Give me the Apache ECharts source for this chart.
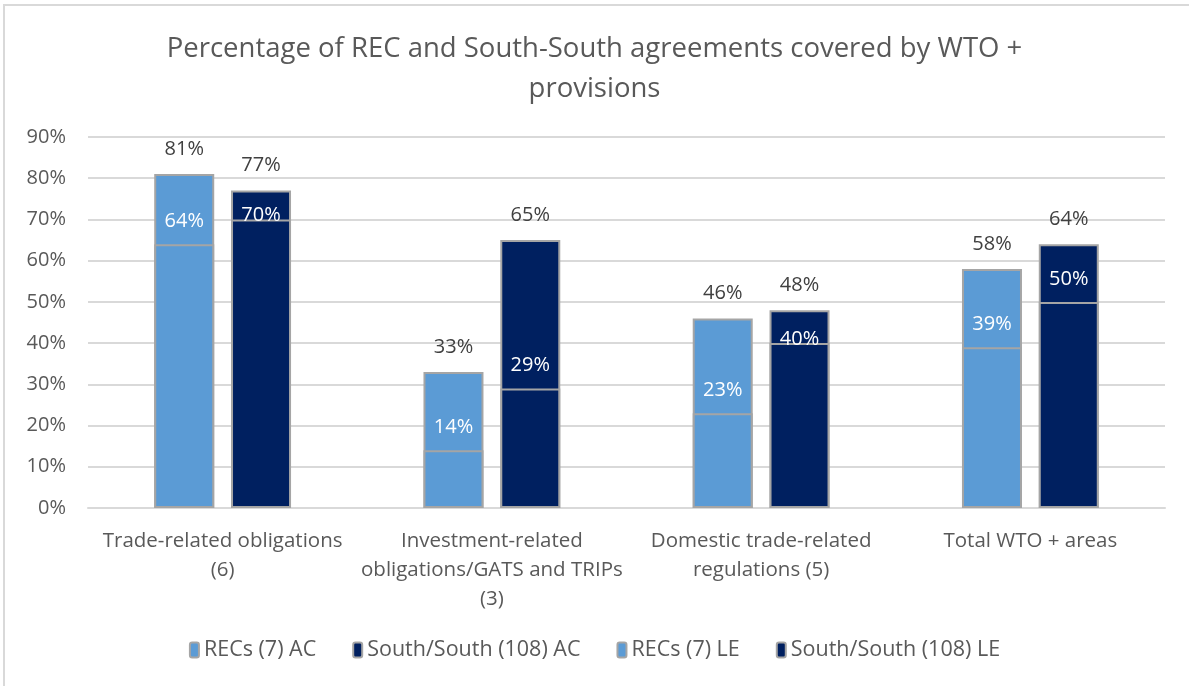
<!DOCTYPE html>
<html>
<head>
    <meta charset="utf-8">
    <title>WTO + provisions</title>
    <script src="https://cdn.jsdelivr.net/npm/echarts@6/dist/echarts.min.js"></script>
    <style>
        body { margin: 0; background: #fff; }
        #main { width: 1189px; height: 686px; }
    </style>
</head>
<body>
    <div id="main"></div>
    <script type="text/javascript">
        // data
        var categories = [
            'Trade-related obligations\n(6)',
            'Investment-related\nobligations/GATS and TRIPs\n(3)',
            'Domestic trade-related\nregulations (5)',
            'Total WTO + areas'
        ];
        var recsAC = [81, 33, 46, 58];
        var southAC = [77, 65, 48, 64];
        var recsLE = [64, 14, 23, 39];
        var southLE = [70, 29, 40, 50];

        var lightBlue = '#5B9BD5';
        var navy = '#002060';
        var edge = '#A5A5A5';
        var textCol = '#595959';
        var font = 'Open Sans';

        var myChart = echarts.init(document.getElementById('main'));

        // LE label sits above the LE top, unless there is no room under the AC top
        function leData(le, ac) {
            return le.map(function (v, i) {
                if (ac[i] - v < 10) {
                    return { value: v, label: { distance: -6 } };
                }
                return v;
            });
        }

        function bar(name, data, color, axis, labelColor, dist) {
            return {
                name: name,
                type: 'bar',
                xAxisIndex: axis,
                data: data,
                barWidth: 60,
                barGap: '28%',
                itemStyle: { color: color, borderColor: edge, borderWidth: 2 },
                label: {
                    show: true,
                    position: 'top',
                    distance: dist,
                    formatter: '{c}%',
                    color: labelColor,
                    fontFamily: font,
                    fontSize: 20
                }
            };
        }

        var option = {
            backgroundColor: '#fff',
            textStyle: { fontFamily: font },
            title: {
                text: 'Percentage of REC and South-South agreements covered by WTO +\nprovisions',
                left: 'center',
                top: 24,
                textStyle: {
                    color: textCol,
                    fontFamily: font,
                    fontWeight: 'normal',
                    fontSize: 27.5,
                    lineHeight: 40
                }
            },
            legend: {
                bottom: 20,
                left: 'center',
                itemWidth: 9,
                itemHeight: 15,
                itemGap: 36,
                textStyle: { color: textCol, fontFamily: font, fontSize: 21.5 },
                data: ['RECs (7) AC', 'South/South (108) AC', 'RECs (7) LE', 'South/South (108) LE']
            },
            grid: { left: 88, right: 24, top: 137, bottom: 178, containLabel: false },
            xAxis: [{
                type: 'category',
                data: categories,
                axisLine: { lineStyle: { color: '#D9D9D9', width: 2 } },
                axisTick: { show: false },
                axisLabel: {
                    color: textCol,
                    fontFamily: font,
                    fontSize: 20.5,
                    lineHeight: 29,
                    margin: 19,
                    interval: 0
                }
            }, {
                type: 'category',
                data: categories,
                show: false
            }],
            yAxis: {
                type: 'value',
                min: 0,
                max: 90,
                interval: 10,
                axisLine: { show: false },
                axisTick: { show: false },
                splitLine: { lineStyle: { color: '#D9D9D9', width: 2 } },
                axisLabel: {
                    formatter: '{value}%',
                    color: textCol,
                    fontFamily: font,
                    fontSize: 20,
                    margin: 22
                }
            },
            graphic: [{
                type: 'rect',
                shape: { x: 4, y: 5, width: 1300, height: 800 },
                style: { fill: null, stroke: '#D9D9D9', lineWidth: 2 },
                silent: true
            }],
            series: [
                bar('RECs (7) AC', recsAC, lightBlue, 0, '#404040', 15),
                bar('South/South (108) AC', southAC, navy, 0, '#404040', 15),
                bar('RECs (7) LE', leData(recsLE, recsAC), lightBlue, 1, '#fff', 13),
                bar('South/South (108) LE', leData(southLE, southAC), navy, 1, '#fff', 13)
            ]
        };

        myChart.setOption(option);
    </script>
</body>
</html>
